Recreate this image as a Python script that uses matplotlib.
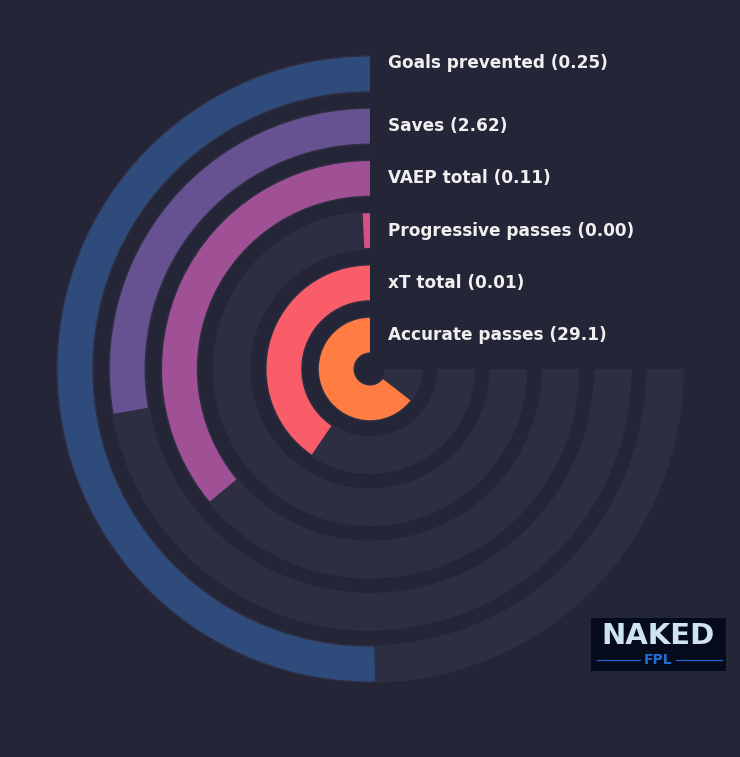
import matplotlib.pyplot as plt
import numpy as np
from matplotlib.patches import Rectangle
from matplotlib.lines import Line2D

plt.rcParams["font.family"] = ["DejaVu Sans"]

# outer ring first
metrics = ["Goals prevented", "Saves", "VAEP total", "Progressive passes", "xT total", "Accurate passes"]
values = ["0.25", "2.62", "0.11", "0.00", "0.01", "29.1"]
fractions = [0.67, 0.37, 0.48, 0.01, 0.54, 0.86]
colors = ["#2f4b7c", "#665191", "#a05195", "#d45087", "#f95d6a", "#ff7c43"]

bg = "#252538"
track = "#2e2e42"
span = 1.5 * np.pi

fig = plt.figure(figsize=(7.4, 7.57), dpi=100, facecolor=bg)
ax = fig.add_axes([56 / 740, 74 / 757, 628 / 740, 628 / 757], projection="polar")
ax.set_facecolor(bg)
ax.set_theta_zero_location("N")
ax.set_theta_direction(1)

n = len(metrics)
bottom0 = 0.286
height = 0.724
ax.set_ylim(0, bottom0 + (n - 1) + height)

for i, (name, val, frac, col) in enumerate(zip(metrics, values, fractions, colors)):
    ring = n - 1 - i
    b = bottom0 + ring
    ax.bar(0, height, width=span, bottom=b, color=track, align="edge", linewidth=0)
    # slight inset so the coloured bar sits inside its track
    ax.bar(0, height - 0.06, width=frac * span, bottom=b + 0.03, color=col,
           align="edge", linewidth=0)
    dy = 11 if i == 0 else 0
    ax.annotate(f"{name} ({val})", xy=(0, b + height / 2), xytext=(18, dy),
                textcoords="offset pixels", ha="left", va="center",
                color="#f0f0f0", fontsize=12.2, fontweight="bold",
                annotation_clip=False)

ax.grid(False)
ax.set_xticks([])
ax.set_yticks([])
ax.spines["polar"].set_visible(False)

# logo
fig.patches.append(Rectangle((591 / 740, 86 / 757), 135 / 740, 53 / 757,
                             transform=fig.transFigure, facecolor="#060b1c",
                             edgecolor="none", zorder=5))
fig.text(658 / 740, 121 / 757, "NAKED", ha="center", va="center", color="#cfe3f3",
         fontsize=21, fontweight="bold", zorder=6)
fig.text(658 / 740, 97 / 757, "FPL", ha="center", va="center", color="#1f6ed4",
         fontsize=10, fontweight="bold", zorder=6)
fig.lines.append(Line2D([597 / 740, 640 / 740], [97 / 757, 97 / 757],
                        transform=fig.transFigure, color="#1f6ed4", lw=0.8, zorder=6))
fig.lines.append(Line2D([676 / 740, 722 / 740], [97 / 757, 97 / 757],
                        transform=fig.transFigure, color="#1f6ed4", lw=0.8, zorder=6))

fig.savefig("out.png", dpi=100, facecolor=bg)
